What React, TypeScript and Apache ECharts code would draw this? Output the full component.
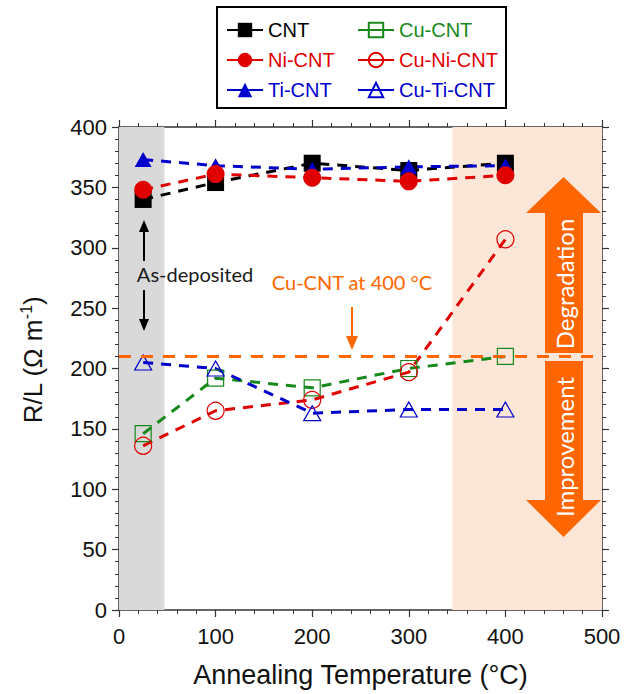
import React, { useEffect, useRef } from "react";
import * as echarts from "echarts";

// Annealing temperatures (°C) and line resistance R/L (Ω m⁻¹) for each wire type
const temps = [25, 100, 200, 300, 400];
const cnt = [340, 354, 370, 364, 370];
const niCnt = [348, 361, 358, 355, 360];
const tiCnt = [373, 368, 365, 367, 368];
const cuCnt = [146, 192, 184, 200, 210];
const cuNiCnt = [136, 165, 174, 197, 307];
const cuTiCnt = [205, 200, 163, 166, 166];

const xTicks = [0, 100, 200, 300, 400, 500];
const yTicks = [0, 50, 100, 150, 200, 250, 300, 350, 400];

const cuCnt400 = 210; // reference level: Cu-CNT after 400 °C anneal
const asDepositedRange = [0, 47];
const hotRange = [345, 500];

const BLACK = "#000000";
const RED = "#e00000";
const BLUE = "#0000cc";
const GREEN = "#17891a";
const ORANGE = "#ff6600";

const AXIS_FONT = "'Liberation Sans', Arial, sans-serif";
const NOTE_FONT = "Lato, 'Open Sans', sans-serif";

const pts = (vals: number[]) => temps.map((t, i) => [t, vals[i]]);

function lineSeries(
  name: string,
  vals: number[],
  color: string,
  symbol: string,
  size: number | number[],
  filled: boolean
) {
  return {
    name,
    type: "line",
    data: pts(vals),
    symbol,
    symbolSize: size,
    showAllSymbol: true,
    itemStyle: filled
      ? { color, borderWidth: 0 }
      : { color: "transparent", borderColor: color, borderWidth: 1.2 },
    lineStyle: { color, width: 3, type: [10, 8] },
    emphasis: { disabled: true },
  };
}

export default function App() {
  const ref = useRef<HTMLDivElement>(null);

  useEffect(() => {
    document.body.style.margin = "0";
    if (!ref.current) return;
    const chart = echarts.init(ref.current, undefined, { renderer: "svg" });

    const axisCommon = {
      type: "value",
      axisLine: { show: true, onZero: false, lineStyle: { color: "#333", width: 1.5 } },
      axisTick: { show: true, inside: false, length: 7, lineStyle: { color: "#333", width: 1.2 } },
      minorTick: { show: true, splitNumber: 5, length: 4, lineStyle: { color: "#333", width: 1 } },
      splitLine: { show: false },
      minorSplitLine: { show: false },
    };

    const legendCommon = {
      orient: "vertical",
      top: 20,
      padding: 0,
      itemGap: 10,
      itemWidth: 36,
      itemHeight: 18,
      selectedMode: false,
      lineStyle: { type: "solid", width: 2 },
      textStyle: { fontFamily: AXIS_FONT, fontSize: 20 },
    };

    const note = (text: string, x: number, y: number, size: number, fill: string, rotation = 0) => ({
      type: "text",
      x,
      y,
      rotation,
      z: 60,
      style: {
        text,
        font: `${size}px ${NOTE_FONT}`,
        fill,
        align: "center",
        verticalAlign: "middle",
      },
    });

    const option: any = {
      animation: false,
      backgroundColor: "#ffffff",
      grid: { left: 119, right: 22, top: 127, bottom: 84, containLabel: false },
      xAxis: [
        {
          ...axisCommon,
          position: "bottom",
          min: 0,
          max: 500,
          interval: 100,
          axisLabel: {
            color: "#111",
            fontFamily: AXIS_FONT,
            fontSize: 22,
            margin: 15,
            formatter: (v: number) => (xTicks.includes(v) ? String(v) : ""),
          },
          name: "Annealing Temperature (°C)",
          nameLocation: "middle",
          nameGap: 51,
          nameTextStyle: { color: "#111", fontFamily: AXIS_FONT, fontSize: 27 },
        },
        {
          ...axisCommon,
          position: "top",
          min: 0,
          max: 500,
          interval: 100,
          axisLabel: { show: false },
        },
      ],
      yAxis: [
        {
          ...axisCommon,
          position: "left",
          min: 0,
          max: 400,
          interval: 50,
          axisLabel: {
            color: "#111",
            fontFamily: AXIS_FONT,
            fontSize: 22,
            margin: 12,
            formatter: (v: number) => (yTicks.includes(v) ? String(v) : ""),
          },
        },
        {
          ...axisCommon,
          position: "right",
          min: 0,
          max: 400,
          interval: 50,
          axisLabel: { show: false },
        },
      ],
      legend: [
        {
          ...legendCommon,
          left: 226,
          data: [
            { name: "CNT", textStyle: { color: BLACK } },
            { name: "Ni-CNT", textStyle: { color: RED } },
            { name: "Ti-CNT", textStyle: { color: BLUE } },
          ],
        },
        {
          ...legendCommon,
          left: 357,
          data: [
            { name: "Cu-CNT", textStyle: { color: GREEN } },
            { name: "Cu-Ni-CNT", textStyle: { color: RED } },
            { name: "Cu-Ti-CNT", textStyle: { color: BLUE } },
          ],
        },
      ],
      series: [
        {
          name: "regions",
          type: "line",
          data: [],
          silent: true,
          markArea: {
            silent: true,
            data: [
              [
                { xAxis: asDepositedRange[0], yAxis: 0, itemStyle: { color: "#d9d9d9" } },
                { xAxis: asDepositedRange[1], yAxis: 400 },
              ],
              [
                { xAxis: hotRange[0], yAxis: 0, itemStyle: { color: "#fce6d8" } },
                { xAxis: hotRange[1], yAxis: 400 },
              ],
            ],
          },
          markLine: {
            silent: true,
            symbol: "none",
            label: { show: false },
            lineStyle: { color: ORANGE, width: 3, type: [12, 10] },
            data: [{ yAxis: cuCnt400 }],
          },
        },
        lineSeries("Cu-CNT", cuCnt, GREEN, "rect", 16, false),
        lineSeries("Cu-Ni-CNT", cuNiCnt, RED, "circle", 17, false),
        lineSeries("Cu-Ti-CNT", cuTiCnt, BLUE, "triangle", [17, 15], false),
        lineSeries("CNT", cnt, BLACK, "rect", 17, true),
        lineSeries("Ti-CNT", tiCnt, BLUE, "triangle", [17, 15], true),
        lineSeries("Ni-CNT", niCnt, RED, "circle", 18, true),
      ],
      graphic: [
        // legend frame
        {
          type: "rect",
          z: 60,
          shape: { x: 217, y: 7, width: 289, height: 101 },
          style: { fill: "none", stroke: "#000", lineWidth: 2 },
        },
        // y-axis title with superscript
        {
          type: "text",
          x: 33,
          y: 360,
          z: 60,
          rotation: Math.PI / 2,
          style: {
            text: "{a|R/L (Ω m}{s|-1}{a|)}",
            align: "center",
            verticalAlign: "middle",
            rich: {
              a: { fontFamily: AXIS_FONT, fontSize: 26, fill: "#111" },
              s: { fontFamily: AXIS_FONT, fontSize: 16, fill: "#111", padding: [0, 0, 13, 0] },
            },
          },
        },
        // As-deposited note with arrows
        note("As-deposited", 195, 274, 20, "#1a1a1a"),
        { type: "line", z: 60, shape: { x1: 144, y1: 261, x2: 144, y2: 230 }, style: { stroke: "#000", lineWidth: 2 } },
        { type: "polygon", z: 60, shape: { points: [[144, 220], [139, 232], [149, 232]] }, style: { fill: "#000" } },
        { type: "line", z: 60, shape: { x1: 144, y1: 290, x2: 144, y2: 321 }, style: { stroke: "#000", lineWidth: 2 } },
        { type: "polygon", z: 60, shape: { points: [[144, 331], [139, 319], [149, 319]] }, style: { fill: "#000" } },
        // Cu-CNT at 400 °C note
        note("Cu-CNT at 400 °C", 352, 282, 20, ORANGE),
        { type: "line", z: 60, shape: { x1: 352, y1: 307, x2: 352, y2: 338 }, style: { stroke: ORANGE, lineWidth: 2 } },
        { type: "polygon", z: 60, shape: { points: [[352, 350], [346, 336], [358, 336]] }, style: { fill: ORANGE } },
        // Degradation / Improvement arrows
        {
          type: "polygon",
          z: 55,
          shape: {
            points: [
              [563.5, 177],
              [601, 213],
              [583, 213],
              [583, 353],
              [545, 353],
              [545, 213],
              [526, 213],
            ],
          },
          style: { fill: ORANGE },
        },
        {
          type: "polygon",
          z: 55,
          shape: {
            points: [
              [545, 361],
              [583, 361],
              [583, 500],
              [601, 500],
              [563.5, 537],
              [526, 500],
              [545, 500],
            ],
          },
          style: { fill: ORANGE },
        },
        note("Degradation", 564, 284, 24, "#ffffff", Math.PI / 2),
        note("Improvement", 564, 447, 24, "#ffffff", Math.PI / 2),
      ],
    };

    chart.setOption(option);
    return () => chart.dispose();
  }, []);

  return <div ref={ref} style={{ width: 624, height: 694 }} />;
}
